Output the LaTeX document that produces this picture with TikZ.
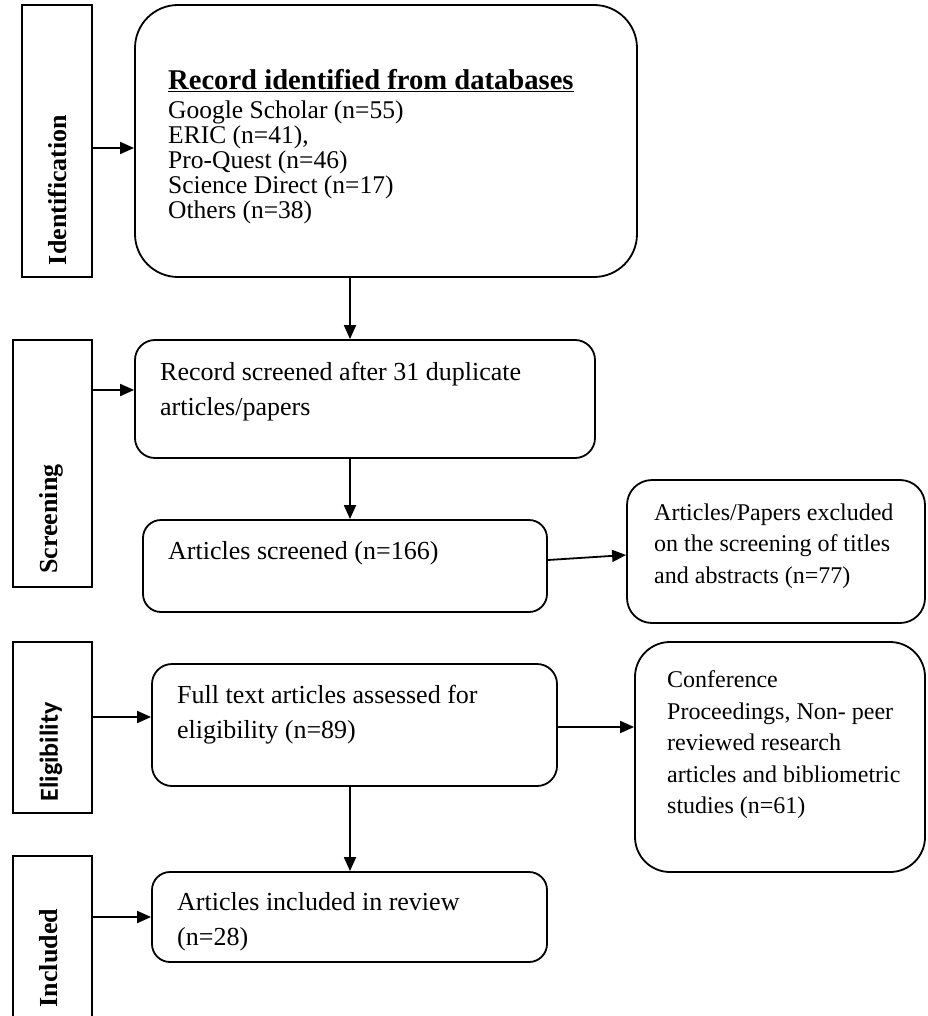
\documentclass[tikz,border=0pt]{standalone}
\usepackage{fontspec}
\setmainfont{Liberation Serif}
\newfontfamily\calibfont{Carlito}
\usetikzlibrary{arrows.meta}
\begin{document}
\begin{tikzpicture}[x=1pt,y=-1pt,
  box/.style={draw,line width=1.8pt,rounded corners=#1,inner sep=0pt},
  lab/.style={draw,line width=1.8pt,inner sep=0pt},
  lbl/.style={rotate=90,inner sep=0pt,font=\fontsize{26}{30}\selectfont\bfseries},
  txt/.style={inner sep=0pt,align=left,anchor=north west},
  arr/.style={line width=1.8pt,-{Triangle[length=14pt,width=12pt]}}]
\clip (0,0) rectangle (927,1016);
\fill[white] (0,0) rectangle (927,1016);

% stage label boxes
\node[lab,minimum width=70pt,minimum height=272pt] (idbox) at (57,141) {};
\node[lab,minimum width=79pt,minimum height=247pt] (scbox) at (52.5,463.5) {};
\node[lab,minimum width=79pt,minimum height=171pt] (elbox) at (52.5,727.5) {};
\node[lab,minimum width=79pt,minimum height=200pt] (inbox) at (52.5,956) {};

\node[lbl] (tid) at (57,190) {Identification};
\node[lbl] (tsc) at (51,519) {Screening};
\node[lbl,font=\fontsize{26}{30}\selectfont\calibfont\bfseries] (tel) at (51,752) {Eligibility};
\node[lbl] (tin) at (49,958) {Included};

% flow boxes
\node[box=43pt,minimum width=502pt,minimum height=272pt] (b1) at (386,141) {};
\node[box=20pt,minimum width=460pt,minimum height=118pt] (b2) at (365,399) {};
\node[box=18pt,minimum width=404pt,minimum height=92pt] (b3) at (345,566) {};
\node[box=25pt,minimum width=298pt,minimum height=143pt] (b4) at (776,551.5) {};
\node[box=20pt,minimum width=405pt,minimum height=122pt] (b6) at (354.5,725) {};
\node[box=35pt,minimum width=290pt,minimum height=230pt] (b5) at (780,757) {};
\node[box=18pt,minimum width=395pt,minimum height=90pt] (b7) at (349.5,917) {};

% texts
\node[inner sep=0pt,anchor=base west,font=\fontsize{28.6}{30}\selectfont\bfseries] (t1h) at (168,90) {\underline{Record identified from databases}};
\node[txt,font=\fontsize{25.5}{25}\selectfont] (t1) at (168,100.5) {Google Scholar (n=55)\\ERIC (n=41),\\Pro-Quest (n=46)\\Science Direct (n=17)\\Others (n=38)};
\node[txt,font=\fontsize{26}{35}\selectfont] (t2) at (160,362) {Record screened after 31 duplicate\\articles/papers};
\node[inner sep=0pt,anchor=base west,font=\fontsize{26}{35}\selectfont] (t3) at (168,559) {Articles screened (n=166)};
\node[txt,font=\fontsize{24}{31.5}\selectfont] (t4) at (654,503.5) {Articles/Papers excluded\\on the screening of titles\\and abstracts (n=77)};
\node[txt,font=\fontsize{24}{31.5}\selectfont] (t5) at (667,670.5) {Conference\\Proceedings, Non- peer\\reviewed research\\articles and bibliometric\\studies (n=61)};
\node[txt,font=\fontsize{26}{35}\selectfont] (t6) at (177,685) {Full text articles assessed for\\eligibility (n=89)};
\node[txt,font=\fontsize{26}{35}\selectfont] (t7) at (177,892) {Articles included in review\\(n=28)};

% helper coordinates
\coordinate (colx) at (350,0);
\coordinate (ya) at (0,148);
\coordinate (yb) at (0,390);
\coordinate (yc1) at (0,560);
\coordinate (yc2) at (0,555);
\coordinate (yd) at (0,717);
\coordinate (ye) at (0,727);
\coordinate (yf) at (0,917);

% connectors
\draw[arr] (idbox.east |- ya) -- (b1.west |- ya);
\draw[arr] (b1.south -| colx) -- (b2.north -| colx);
\draw[arr] (scbox.east |- yb) -- (b2.west |- yb);
\draw[arr] (b2.south -| colx) -- (b3.north -| colx);
\draw[arr] (b3.east |- yc1) -- (b4.west |- yc2);
\draw[arr] (elbox.east |- yd) -- (b6.west |- yd);
\draw[arr] (b6.east |- ye) -- (b5.west |- ye);
\draw[arr] (b6.south -| colx) -- (b7.north -| colx);
\draw[arr] (inbox.east |- yf) -- (b7.west |- yf);
\end{tikzpicture}
\end{document}
